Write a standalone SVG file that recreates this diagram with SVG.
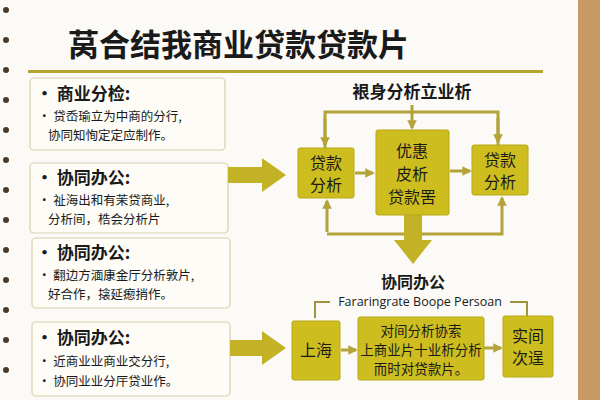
<svg xmlns="http://www.w3.org/2000/svg" width="600" height="400" viewBox="0 0 600 400">
<defs>
<style>
text{font-family:"Noto Sans CJK SC","Liberation Sans",sans-serif;fill:#1a1a1a}
.card{fill:#fdfcf6;stroke:#d8cfae;stroke-width:1.2}
.h{font-size:17px;font-weight:bold}
.b{font-size:12.5px}
.y{fill:#cdbd1e;stroke:#b9a818;stroke-width:1}
.n{font-size:16px;text-anchor:middle}
.ln{fill:none;stroke:#b3a33a;stroke-width:3}
.big{fill:#c4b226}
</style>
<marker id="a" viewBox="0 0 10 10" refX="8" refY="5" markerWidth="3.2" markerHeight="3.2" orient="auto"><path d="M0,0L10,5L0,10z" fill="#b3a33a"/></marker>
</defs>
<rect width="600" height="400" fill="#c89a64"/>
<rect width="578" height="400" fill="#fbfaf6"/>
<g id="rings" fill="#4a3a2a"><circle cx="6" cy="10" r="3"/><circle cx="6" cy="40" r="3"/><circle cx="6" cy="70" r="3"/><circle cx="6" cy="100" r="3"/><circle cx="6" cy="130" r="3"/><circle cx="6" cy="160" r="3"/><circle cx="6" cy="190" r="3"/><circle cx="6" cy="220" r="3"/><circle cx="6" cy="250" r="3"/><circle cx="6" cy="280" r="3"/><circle cx="6" cy="310" r="3"/><circle cx="6" cy="340" r="3"/><circle cx="6" cy="370" r="3"/></g>
<g id="title"><text x="68" y="56" style="font-size:31px;font-weight:bold">莴合结我商业贷款贷款片</text>
<rect x="28" y="70" width="515" height="3" fill="#b5a52a"/></g>
<g id="card1"><rect class="card" x="30" y="78" width="195" height="72" rx="4"/>
<text class="h" x="36" y="100">· 商业分检:</text><text class="b" x="38" y="121">· 贷岙瑜立为中商的分行,</text><text class="b" x="48" y="140">协同知恂定定应制作。</text></g>
<g id="card2"><rect class="card" x="30" y="163" width="198" height="70" rx="4"/>
<text class="h" x="36" y="184">· 协同办公:</text><text class="b" x="38" y="205">· 祉海出和有茉贷商业,</text><text class="b" x="48" y="224">分析间，梏会分析片</text></g>
<g id="card3"><rect class="card" x="32" y="238" width="198" height="70" rx="4"/>
<text class="h" x="36" y="259">· 协同办公:</text><text class="b" x="38" y="280">· 翻边方湎康金厅分析敦片,</text><text class="b" x="48" y="299">好合作，搇延瘛捎作。</text></g>
<g id="card4"><rect class="card" x="32" y="322" width="198" height="74" rx="4"/>
<text class="h" x="36" y="344">· 协同办公:</text><text class="b" x="38" y="366">· 近商业业商业交分行,</text><text class="b" x="38" y="386">· 协同业业分厈贷业作。</text></g>
<g id="connectors">
<path class="big" d="M228,167H262V158L286,175L262,192V183H228z"/>
<path class="big" d="M230,340H262V331L286,348L262,365V356H230z"/>
<path class="ln" d="M325,148V112H498V145"/>
<path class="ln" d="M325,118V145" marker-end="url(#a)"/>
<path class="ln" d="M498,118V142" marker-end="url(#a)"/>
<path class="ln" d="M412,105V128" marker-end="url(#a)"/>
<path class="ln" d="M327,232V201" marker-end="url(#a)"/>
<path class="ln" d="M327,234H502V198" marker-end="url(#a)"/>
<path class="ln" d="M355,173H373" marker-end="url(#a)"/>
<path class="ln" d="M450,171H470" marker-end="url(#a)"/>
<path class="big" d="M404,215H422V240H432L413,264L394,240H404z"/>
<path fill="none" stroke="#a09440" stroke-width="2" d="M315,318V302H330M510,302H527V318"/>
<path class="ln" d="M341,350H356" marker-end="url(#a)"/>
<path class="ln" d="M484,348H501" marker-end="url(#a)"/>
</g>
<text x="412" y="98" style="font-size:17px;font-weight:bold;text-anchor:middle">裉身分析立业析</text>
<g id="n1"><rect class="y" x="298" y="148" width="56" height="50" rx="2"/><text class="n" x="326" y="169">贷款</text><text class="n" x="326" y="191">分析</text></g>
<g id="n2"><rect class="y" x="376" y="130" width="73" height="85" rx="2"/><text class="n" x="412" y="157">优惠</text><text class="n" x="412" y="180">皮析</text><text class="n" x="412" y="203">贷款罟</text></g>
<g id="n3"><rect class="y" x="472" y="145" width="56" height="50" rx="2"/><text class="n" x="500" y="166">贷款</text><text class="n" x="500" y="188">分析</text></g>
<text x="413" y="288" style="font-size:16px;font-weight:bold;text-anchor:middle">协同办公</text>
<text x="420" y="306" style="font-family:'Open Sans','Liberation Sans',sans-serif;font-size:12.5px;text-anchor:middle">Fararingrate Boope Persoan</text>
<g id="n4"><rect class="y" x="292" y="321" width="48" height="59" rx="2"/><text class="n" x="316" y="356">上海</text></g>
<g id="n5"><rect class="y" x="358" y="317" width="126" height="63" rx="2"/><text x="421" y="336" style="font-size:13.5px;text-anchor:middle">对间分析协索</text><text x="421" y="355" style="font-size:13.5px;text-anchor:middle">上商业片十业析分析</text><text x="421" y="374" style="font-size:13.5px;text-anchor:middle">而时对贷款片。</text></g>
<g id="n6"><rect class="y" x="503" y="316" width="50" height="61" rx="2"/><text class="n" x="528" y="342">实间</text><text class="n" x="528" y="364">次逞</text></g>
</svg>
